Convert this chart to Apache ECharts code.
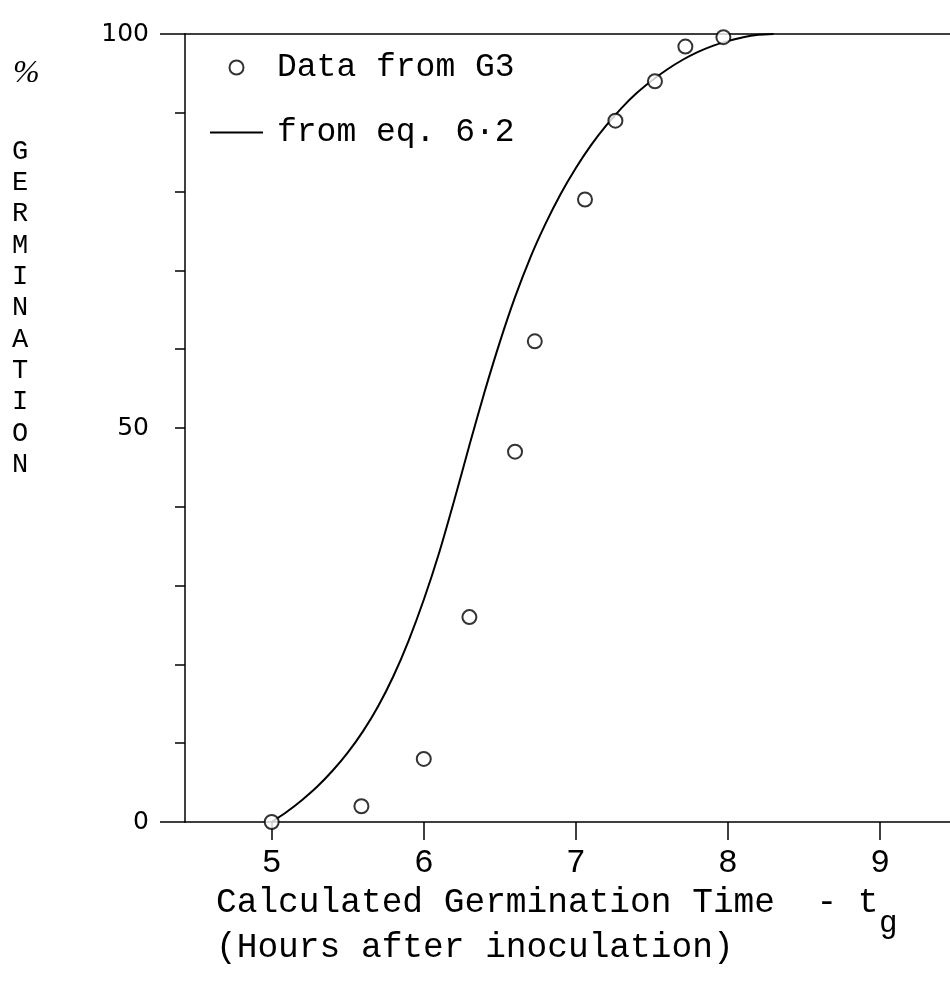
<!DOCTYPE html>
<html>
<head>
<meta charset="utf-8">
<script src="https://cdn.jsdelivr.net/npm/echarts@6/dist/echarts.min.js"></script>
<style>
html,body{margin:0;padding:0;background:#fff;}
#chart{width:950px;height:1004px;}
</style>
</head>
<body>
<div id="chart"></div>
<script>
// Observed data (Data from G3): [time (h), % germination]
const dataG3 = [
  [5.00, 0], [5.59, 2], [6.00, 8], [6.30, 26], [6.60, 47], [6.73, 61],
  [7.06, 79], [7.26, 89], [7.52, 94], [7.72, 98.4], [7.97, 99.6]
];
// Curve from eq. 6.2
const curveEq62 = [
  [5.0, 0], [5.1, 1.3], [5.2, 2.8], [5.3, 4.5], [5.4, 6.5], [5.5, 8.8],
  [5.6, 11.5], [5.7, 14.7], [5.8, 18.5], [5.9, 23.0], [6.0, 28.2],
  [6.1, 34.1], [6.2, 40.8], [6.3, 47.8], [6.4, 54.6], [6.5, 60.9],
  [6.6, 66.6], [6.7, 71.6], [6.8, 75.9], [6.9, 79.7], [7.0, 83.0],
  [7.1, 85.9], [7.2, 88.4], [7.3, 90.6], [7.4, 92.5], [7.5, 94.1],
  [7.6, 95.5], [7.7, 96.7], [7.8, 97.7], [7.9, 98.5], [8.0, 99.1],
  [8.1, 99.6], [8.2, 99.9], [8.3, 100]
];
const xTicks = [5, 6, 7, 8, 9];
const yLabelled = [0, 50, 100];
const legendNames = ['Data from G3', 'from eq. 6\u00b72'];
const xTitle = 'Calculated Germination Time  - t';
const xTitleSub = 'g';
const xTitle2 = '(Hours after inoculation)';
const yTitleTop = '%';
const yTitleWord = 'GERMINATION';

const mono = '"Liberation Mono", "DejaVu Sans Mono", monospace';
const chart = echarts.init(document.getElementById('chart'), null, {renderer: 'canvas'});
const XMIN = 4.43, XMAX = 9.46;

chart.setOption({
  backgroundColor: '#ffffff',
  animation: false,
  grid: {left: 185, right: 0, top: 34, bottom: 182, containLabel: false},
  legend: {
    orient: 'vertical', left: 205, top: 46, itemWidth: 53, itemHeight: 14, itemGap: 32,
    textStyle: {fontFamily: mono, fontSize: 33, color: '#000', padding: [0, 0, 0, 9]},
    data: [
      {name: legendNames[0], icon: 'emptyCircle'},
      {name: legendNames[1], icon: 'path://M0,0 L53,0 L53,2 L0,2 Z'}
    ]
  },
  xAxis: [
    {
      type: 'value', min: XMIN, max: XMAX, position: 'bottom',
      axisLine: {onZero: false, lineStyle: {color: '#000', width: 1.5}},
      axisTick: {show: true, length: 18, lineStyle: {color: '#000', width: 1.5}, customValues: xTicks},
      axisLabel: {color: '#000', fontFamily: mono, fontSize: 33, margin: 25, customValues: xTicks},
      splitLine: {show: false}
    },
    {
      type: 'value', min: XMIN, max: XMAX, position: 'top',
      axisLine: {show: true, onZero: false, lineStyle: {color: '#000', width: 1.5}},
      axisTick: {show: false}, axisLabel: {show: false}, splitLine: {show: false}
    }
  ],
  yAxis: [
    {
      type: 'value', min: 0, max: 100, interval: 10,
      axisLine: {show: true, onZero: false, lineStyle: {color: '#000', width: 1.5}},
      axisTick: {show: true, length: 10, lineStyle: {color: '#000', width: 1.5}},
      axisLabel: {
        color: '#000', fontFamily: '"DejaVu Sans", sans-serif', fontSize: 25, margin: 36,
        formatter: v => (yLabelled.indexOf(v) >= 0 ? String(v) : '')
      },
      splitLine: {show: false}
    },
    {
      type: 'value', min: 0, max: 100, position: 'left',
      axisLine: {show: false, onZero: false},
      axisTick: {show: true, length: 25, lineStyle: {color: '#000', width: 1.5}, customValues: [0, 100]},
      axisLabel: {show: false}, splitLine: {show: false}
    }
  ],
  series: [
    {
      name: legendNames[0], type: 'scatter', data: dataG3,
      symbol: 'emptyCircle', symbolSize: 14,
      itemStyle: {color: '#000', borderColor: '#000', borderWidth: 2},
      z: 3
    },
    {
      name: legendNames[1], type: 'line', data: curveEq62,
      smooth: 0.25, symbol: 'none',
      lineStyle: {color: '#000', width: 2},
      itemStyle: {color: '#000'},
      z: 2
    }
  ],
  graphic: [
    {type: 'text', left: 13, top: 58, style: {text: yTitleTop, font: 'italic 32px "Liberation Serif", serif', fill: '#000'}},
    {type: 'text', left: 12, top: 136, style: {
      text: yTitleWord.split('').join('\n'), fontFamily: mono, fontSize: 27, lineHeight: 31.3, fill: '#000'}},
    {type: 'text', left: 216, top: 885, style: {text: xTitle, fontFamily: mono, fontSize: 34.5, fill: '#000'}},
    {type: 'text', left: 879, top: 908, style: {text: xTitleSub, fontFamily: mono, fontSize: 31, fill: '#000'}},
    {type: 'text', left: 216, top: 930, style: {text: xTitle2, fontFamily: mono, fontSize: 34.5, fill: '#000'}}
  ]
});
</script>
</body>
</html>
